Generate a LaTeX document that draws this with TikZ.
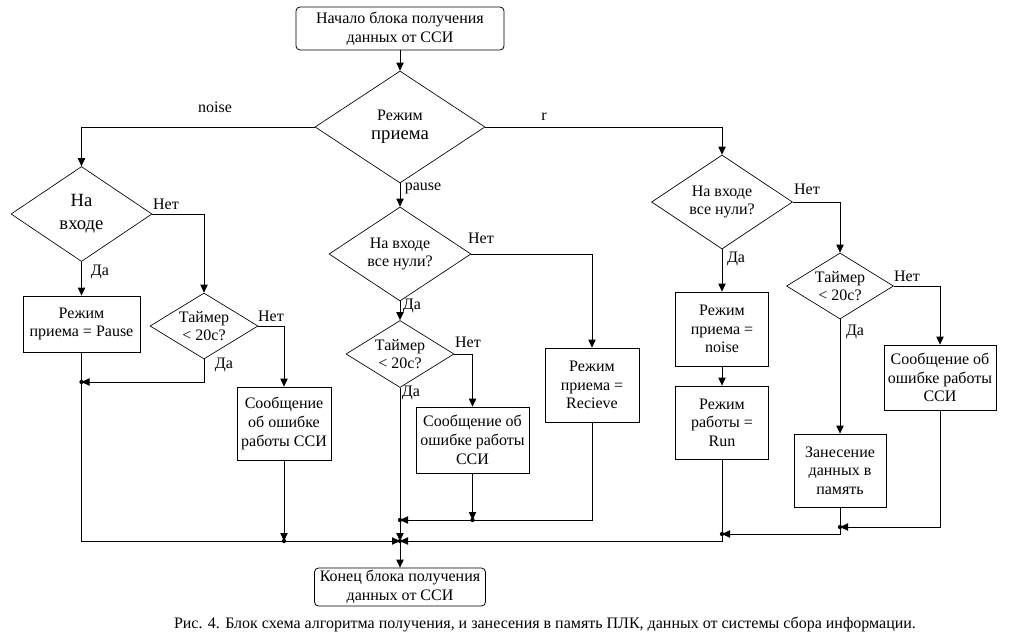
\documentclass[tikz,border=0pt]{standalone}
\usepackage{fontspec}
\setmainfont{Liberation Serif}
\usetikzlibrary{shapes.geometric,arrows.meta}
\begin{document}
\begin{tikzpicture}[x=0.75pt,y=-0.75pt,
  every node/.style={font=\fontsize{12}{14}\selectfont},
  box/.style={draw,line width=0.6pt,align=center,inner sep=0pt},
  rbox/.style={box,rounded corners=3pt},
  dia/.style={draw,diamond,line width=0.5pt,align=center,inner sep=0pt},
  lab/.style={inner sep=0pt},
  ln/.style={line width=0.6pt},
  arr/.style={ln,-{Triangle[length=6pt,width=5.5pt]}},
  big/.style={font=\fontsize{14}{17}\selectfont}
]
\fill[white] (0,0) rectangle (1009,635);
\useasboundingbox (0,0) rectangle (1009,635);

% nodes
\node[rbox,minimum width=156pt,minimum height=32.25pt] (start) at (400,28.5) {Начало блока получения\\данных от ССИ};
\node[dia,minimum width=127.5pt,minimum height=84pt,shape aspect=1.52] (mode) at (400,127) {Режим\\{\fontsize{14}{17}\selectfont приема}};

\node[dia,big,minimum width=105.75pt,minimum height=71.25pt,shape aspect=1.48] (d1) at (81.5,214) {На\\входе};
\node[box,minimum width=87.75pt,minimum height=42pt] (pbox) at (81.5,324) {Режим\\приема = Pause};
\node[dia,minimum width=81pt,minimum height=49.5pt,shape aspect=1.64] (t1) at (204,326) {Таймер\\< 20с?};
\node[box,minimum width=70.5pt,minimum height=54.75pt] (err1) at (284,423.5) {Сообщение\\об ошибке\\работы ССИ};

\node[dia,minimum width=106.5pt,minimum height=70.5pt,shape aspect=1.51] (d2) at (400,254) {На входе\\все нули?};
\node[dia,minimum width=81pt,minimum height=50.25pt,shape aspect=1.61] (t2) at (400,354) {Таймер\\< 20с?};
\node[box,minimum width=84.75pt,minimum height=49.5pt] (err2) at (472.5,440) {Сообщение об\\ошибке работы\\ССИ};
\node[box,minimum width=70.5pt,minimum height=55.5pt] (recv) at (592,385) {Режим\\приема =\\Recieve};

\node[dia,minimum width=105.75pt,minimum height=70.5pt,shape aspect=1.5] (d3) at (722,202) {На входе\\все нули?};
\node[box,minimum width=69.75pt,minimum height=55.5pt] (nbox) at (722,329) {Режим\\приема =\\noise};
\node[box,minimum width=69.75pt,minimum height=54.75pt] (run) at (722,422.5) {Режим\\работы =\\Run};
\node[dia,minimum width=80.25pt,minimum height=49.5pt,shape aspect=1.62] (t3) at (840,286) {Таймер\\< 20с?};
\node[box,minimum width=69pt,minimum height=54.75pt] (store) at (840,470.5) {Занесение\\данных в\\память};
\node[box,minimum width=84pt,minimum height=48.75pt] (err3) at (940,377.5) {Сообщение об\\ошибке работы\\ССИ};

\node[rbox,minimum width=128.25pt,minimum height=28.5pt] (end) at (400,587) {Конец блока получения\\данных от ССИ};

% junctions
\coordinate (M) at (400,541);
\coordinate (m1) at (81.5,382);
\coordinate (bl) at (81.5,541);
\coordinate (m6) at (284,541);
\coordinate (m2) at (400,520);
\coordinate (m3) at (472.5,520);
\coordinate (m4) at (840,527);
\coordinate (m5) at (722,534);
\coordinate (br) at (722,541);

% connectors
\draw[arr] (start.south) -- (mode.north);
\draw[arr] (mode.west) -| (d1.north);
\draw[arr] (mode.east) -| (d3.north);
\draw[arr] (mode.south) -- (d2.north);

\draw[arr] (d1.east) -| (t1.north);
\draw[arr] (d1.south) -- (pbox.north);
\draw[arr] (t1.east) -| (err1.north);
\draw[arr] (t1.south) |- (m1);
\draw[arr] (pbox.south) -- (bl) -- (M);
\draw[arr] (err1.south) -- (m6);

\draw[arr] (d2.east) -| (recv.north);
\draw[arr] (d2.south) -- (t2.north);
\draw[arr] (t2.east) -| (err2.north);
\draw[ln] (t2.south) -- (m2);
\draw[arr] (err2.south) -- (m3);
\draw[arr] (recv.south) |- (m2);
\draw[arr] (m2) -- (M);
\draw[arr] (M) -- (end.north);

\draw[arr] (d3.east) -| (t3.north);
\draw[arr] (d3.south) -- (nbox.north);
\draw[arr] (nbox.south) -- (run.north);
\draw[arr] (t3.east) -| (err3.north);
\draw[arr] (t3.south) -- (store.north);
\draw[arr] (err3.south) |- (m4);
\draw[arr] (store.south) |- (m5);
\draw[arr] (run.south) -- (br) -- (M);

\foreach \p in {M,m1,m2,m3,m4,m5,m6} \fill (\p) circle (1.6pt);

% labels
\node[lab] (lnoise) at (215,107) {noise};
\node[lab] (lr) at (544,117) {r};
\node[lab] (lpause) at (423,188) {pause};
\node[lab] (n1) at (166,204) {Нет};
\node[lab] (y1) at (100,272) {Да};
\node[lab] (n2) at (271,316) {Нет};
\node[lab] (y2) at (224,365) {Да};
\node[lab] (n3) at (481,238) {Нет};
\node[lab] (y3) at (412,306) {Да};
\node[lab] (n4) at (468,342) {Нет};
\node[lab] (y4) at (411,393) {Да};
\node[lab] (n5) at (807,189) {Нет};
\node[lab] (y5) at (736,259) {Да};
\node[lab] (n6) at (907,276) {Нет};
\node[lab] (y6) at (855,332) {Да};

\node[lab] (cap) at (545,624) {Рис. 4. Блок схема алгоритма получения, и занесения в память ПЛК, данных от системы сбора информации.};
\end{tikzpicture}
\end{document}
